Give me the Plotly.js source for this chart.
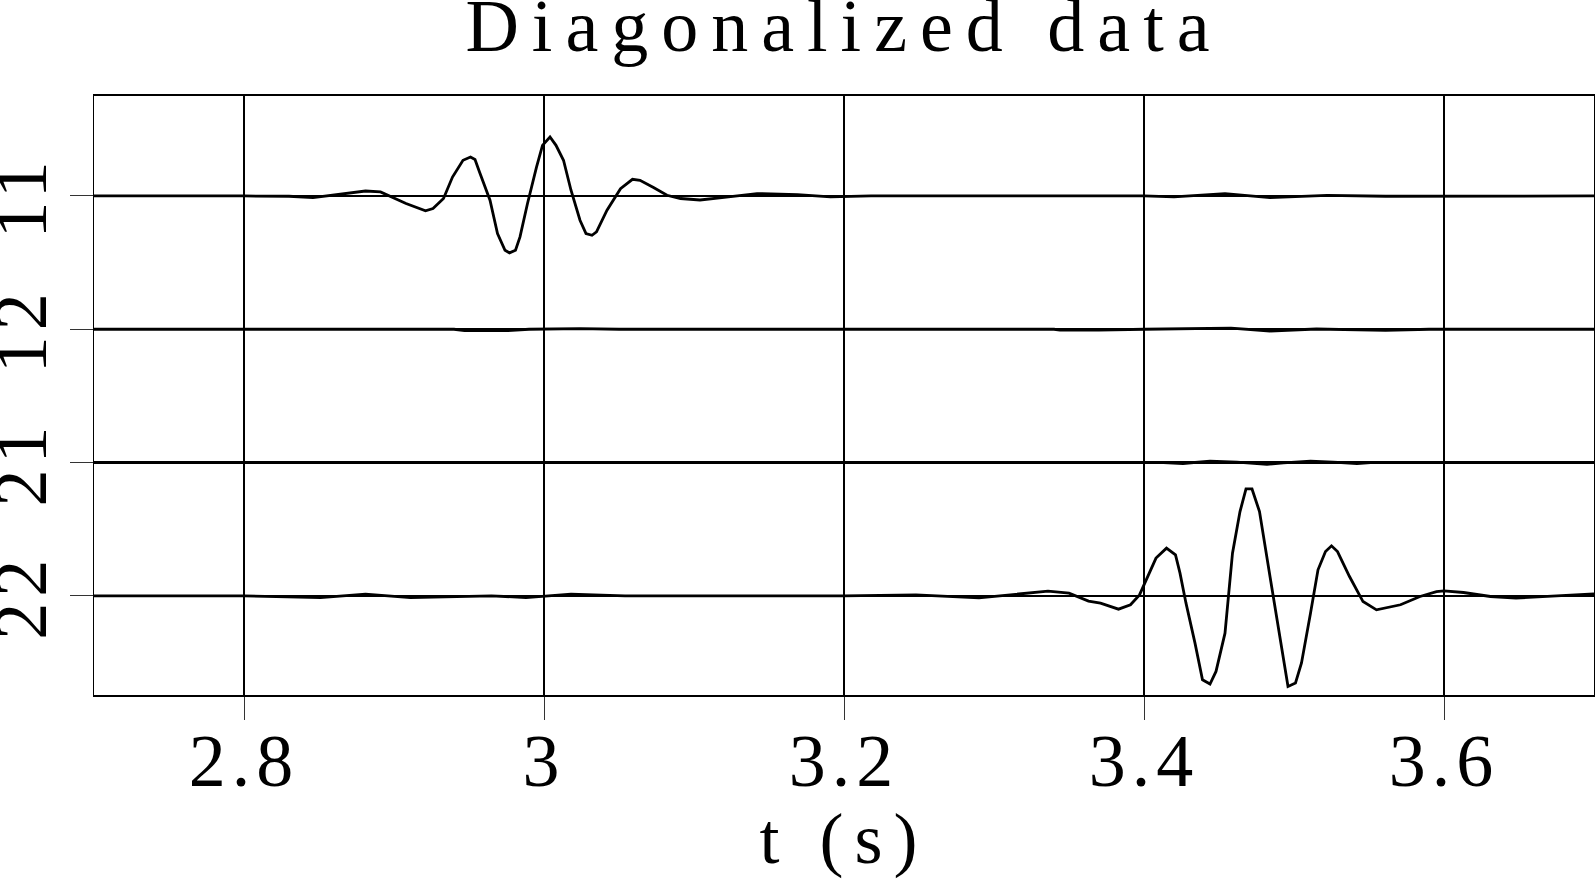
<!DOCTYPE html>
<html>
<head>
<meta charset="utf-8">
<script src="https://cdn.plot.ly/plotly-3.0.1.min.js"></script>
<style>
  html, body { margin: 0; padding: 0; background: #fff; }
  #chart { width: 1595px; height: 879px; }
  .gtitle { letter-spacing: 13px; }
  .xtitle { letter-spacing: 11px; }
  .xtick text, .ytick text { letter-spacing: 6px; }
</style>
</head>
<body>
<div id="chart"></div>
<script>
// ---- data (time in s, amplitude in units of trace spacing) ----
const traceLabels = ['11', '12', '21', '22'];
const traceBaselines = [4, 3, 2, 1];

const t11 = [2.700, 2.760, 2.800, 2.830, 2.846, 2.881, 2.891, 2.908, 2.921, 2.926, 2.933, 2.939, 2.946, 2.951,
             2.954, 2.957, 2.964, 2.969, 2.974, 2.977, 2.981, 2.984, 2.989, 2.995, 2.999, 3.004, 3.008, 3.013,
             3.018, 3.024, 3.028, 3.032, 3.035, 3.042, 3.051, 3.059, 3.064, 3.073, 3.082, 3.091, 3.104, 3.123,
             3.142, 3.169, 3.191, 3.218, 3.300, 3.400, 3.420, 3.454, 3.484, 3.522, 3.561, 3.600, 3.700];
const a11 = [0.000, 0.003, 0.000, -0.002, -0.012, 0.037, 0.030, -0.057, -0.112, -0.094, -0.019, 0.142, 0.268, 0.292,
             0.273, 0.180, -0.032, -0.282, -0.407, -0.427, -0.407, -0.307, -0.057, 0.217, 0.380, 0.442, 0.380, 0.268,
             0.043, -0.182, -0.282, -0.295, -0.270, -0.107, 0.055, 0.125, 0.118, 0.063, 0.005, -0.019, -0.030, -0.007,
             0.018, 0.010, -0.007, 0.000, 0.000, 0.000, -0.007, 0.018, -0.012, 0.004, -0.002, 0.000, 0.000];

const t12 = [2.700, 2.940, 2.947, 2.976, 2.990, 3.024, 3.050, 3.340, 3.344, 3.370, 3.400, 3.446, 3.458, 3.484, 3.515, 3.561, 3.590, 3.700];
const a12 = [0.000, 0.000, -0.011, -0.011, 0.000, 0.005, 0.000, 0.000, -0.007, -0.007, 0.000, 0.008, 0.008, -0.013, 0.002, -0.008, 0.000, 0.000];

const t21 = [2.700, 3.400, 3.413, 3.426, 3.444, 3.462, 3.482, 3.493, 3.511, 3.526, 3.542, 3.551, 3.700];
const a21 = [0.000, 0.000, 0.000, -0.007, 0.010, 0.003, -0.013, -0.003, 0.010, 0.003, -0.007, 0.000, 0.000];

const t22 = [2.700, 2.800, 2.851, 2.881, 2.911, 2.965, 2.988, 3.018, 3.054, 3.200, 3.248, 3.290, 3.336, 3.350,
             3.363, 3.371, 3.383, 3.391, 3.397, 3.400, 3.408, 3.415, 3.421, 3.424, 3.428, 3.434, 3.439, 3.444,
             3.448, 3.454, 3.459, 3.464, 3.468, 3.472, 3.477, 3.484, 3.491, 3.496, 3.501, 3.505, 3.511, 3.516,
             3.521, 3.525, 3.529, 3.537, 3.546, 3.555, 3.571, 3.584, 3.595, 3.600, 3.613, 3.631, 3.648, 3.668, 3.700];
const a22 = [0.000, 0.000, -0.013, 0.013, -0.013, 0.000, -0.013, 0.013, 0.000, 0.000, 0.007, -0.015, 0.035, 0.020,
             -0.040, -0.055, -0.100, -0.067, 0.007, 0.082, 0.283, 0.358, 0.307, 0.170, -0.055, -0.355, -0.630, -0.662,
             -0.567, -0.280, 0.320, 0.632, 0.802, 0.802, 0.632, 0.145, -0.355, -0.680, -0.654, -0.504, -0.130, 0.195,
             0.332, 0.375, 0.332, 0.145, -0.043, -0.105, -0.067, -0.005, 0.032, 0.037, 0.025, -0.005, -0.017, -0.005, 0.015];

const xTickVals = [2.8, 3.0, 3.2, 3.4, 3.6];
const xTickText = ['2.8', '3', '3.2', '3.4', '3.6'];

// ---- traces ----
const series = [[t11, a11], [t12, a12], [t21, a21], [t22, a22]];
const data = series.map(([t, a], i) => ({
  type: 'scatter',
  mode: 'lines',
  name: traceLabels[i],
  x: t,
  y: a.map(v => traceBaselines[i] + v),
  line: { color: '#000', width: 2.8, shape: 'linear' },
  hoverinfo: 'skip'
}));

const font = 'Liberation Serif, Times New Roman, serif';

const layout = {
  width: 1595,
  height: 879,
  margin: { l: 94, r: 1, t: 96, b: 184, pad: 0 },
  paper_bgcolor: '#fff',
  plot_bgcolor: '#fff',
  showlegend: false,
  title: {
    text: 'Diagonalized data',
    font: { family: font, size: 74, color: '#000' },
    x: 0.5, xref: 'paper', xanchor: 'center',
    y: 0.942, yref: 'container', yanchor: 'bottom',
    pad: { t: 0, b: 0, l: 0, r: 0 }
  },
  xaxis: {
    range: [2.7, 3.7],
    tickmode: 'array',
    tickvals: xTickVals,
    ticktext: xTickText,
    ticks: 'outside', ticklen: 23, tickwidth: 1, tickcolor: '#333',
    ticklabelstandoff: -22,
    tickfont: { family: font, size: 74, color: '#000' },
    showgrid: true, gridcolor: '#000', gridwidth: 2.6,
    zeroline: false,
    showline: true, linecolor: '#000', linewidth: 1.6, mirror: true,
    title: { text: 't (s)', font: { family: font, size: 72, color: '#000' }, standoff: 0 }
  },
  yaxis: {
    range: [0.256, 4.75],
    tickmode: 'array',
    tickvals: traceBaselines,
    ticktext: traceLabels,
    tickangle: -90,
    ticks: 'outside', ticklen: 23, tickwidth: 1, tickcolor: '#333',
    ticklabelstandoff: -6,
    ticklabelshift: 12,
    tickfont: { family: font, size: 74, color: '#000' },
    showgrid: true, gridcolor: '#000', gridwidth: 2.2,
    zeroline: false,
    showline: true, linecolor: '#000', linewidth: 1.2, mirror: true
  }
};

Plotly.newPlot('chart', data, layout, { displayModeBar: false, staticPlot: true });
</script>
</body>
</html>
